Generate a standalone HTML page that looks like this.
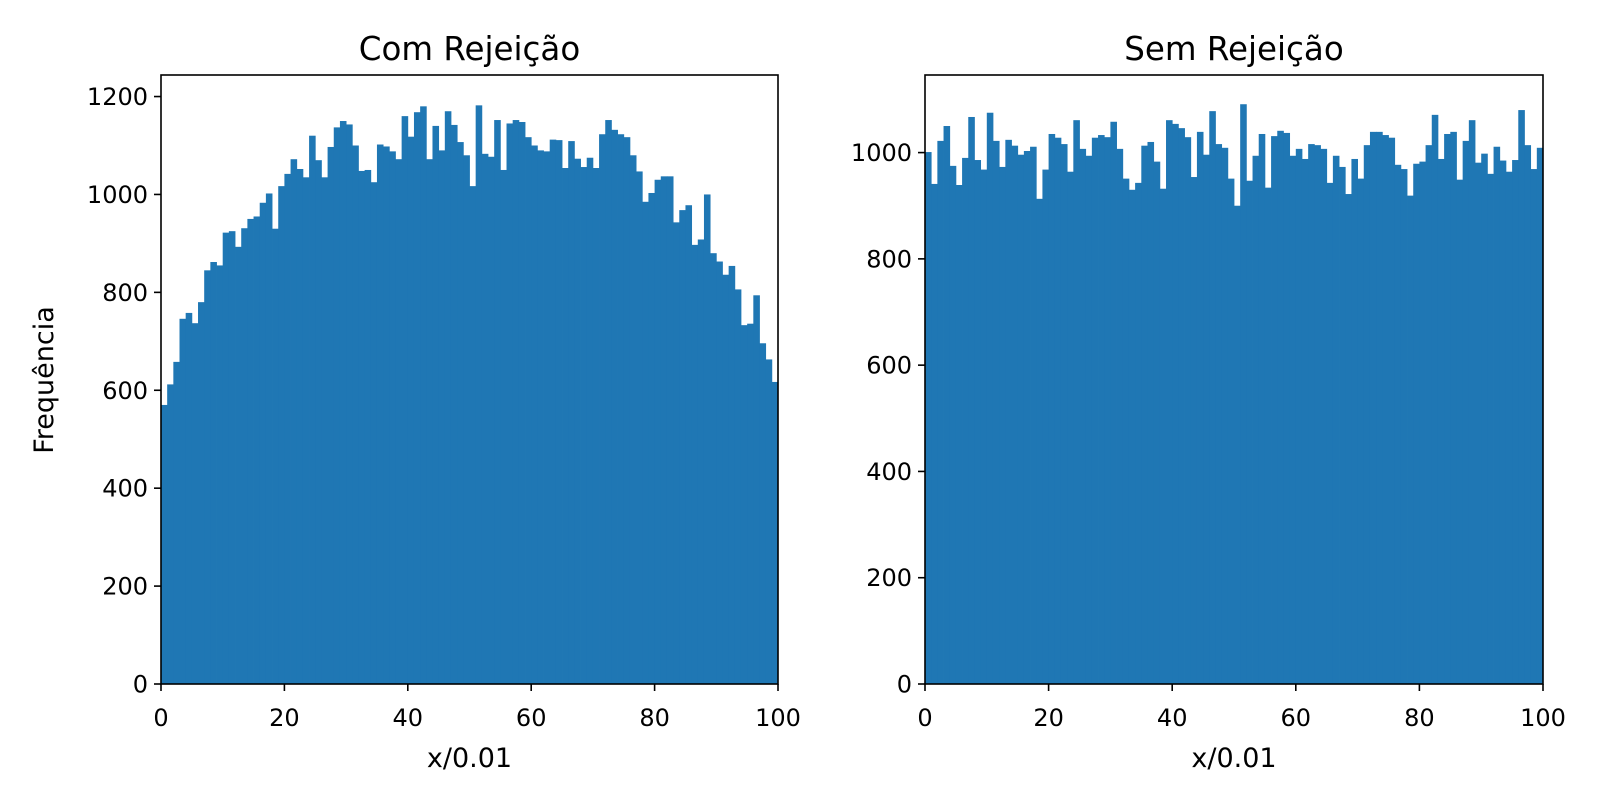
<!DOCTYPE html>
<html><head><meta charset="utf-8"><style>body{margin:0;background:#fff}svg{display:block}text{font-family:"DejaVu Sans","Liberation Sans",sans-serif;fill:#000}</style></head>
<body>
<svg id="chart" width="1600" height="800" viewBox="0 0 1600 800" xmlns="http://www.w3.org/2000/svg"></svg>
<script>
const leftValues=[570,612,658,746,758,737,780,845,862,855,922,925,893,931,950,955,983,1002,930,1017,1042,1072,1052,1035,1120,1070,1035,1097,1137,1150,1143,1100,1048,1050,1025,1102,1098,1088,1072,1160,1118,1168,1180,1072,1140,1090,1170,1142,1107,1080,1017,1182,1083,1077,1152,1050,1145,1152,1148,1117,1100,1090,1088,1112,1111,1054,1109,1073,1056,1075,1054,1123,1152,1132,1123,1117,1080,1047,985,1003,1030,1037,1037,943,968,978,897,908,1000,880,863,836,854,806,733,736,794,696,663,617];
const rightValues=[1001,941,1022,1050,975,939,990,1067,986,968,1075,1022,973,1024,1013,996,1003,1011,913,968,1035,1028,1016,964,1061,1007,994,1028,1033,1029,1058,1007,951,930,943,1013,1020,983,932,1061,1054,1046,1029,954,1039,996,1078,1016,1009,951,900,1091,947,994,1035,934,1031,1041,1037,994,1007,988,1016,1014,1007,943,994,973,922,988,951,1014,1039,1039,1033,1028,977,969,919,979,983,1014,1071,988,1035,1039,949,1022,1061,981,998,960,1011,985,964,986,1080,1014,969,1009];
const xTicks=[0,20,40,60,80,100];
const leftYTicks=[0,200,400,600,800,1000,1200];
const rightYTicks=[0,200,400,600,800,1000];
const svg=document.getElementById('chart');
const NS='http://www.w3.org/2000/svg';
function mk(tag,attrs,parent){const e=document.createElementNS(NS,tag);for(const k in attrs)e.setAttribute(k,attrs[k]);(parent||svg).appendChild(e);return e;}
function panel(x0,x1,yTop,yBot,ymax,values,yTicks,title,key){
  const g=mk('g',{});
  
  
  const sx=v=>x0+(v/100)*(x1-x0);
  const sy=v=>yBot-(v/ymax)*(yBot-yTop);
  const n=values.length;
  values.forEach((v,i)=>{
    const xa=sx(i*100/n),xb=sx((i+1)*100/n);
    const r=mk('rect',{x:xa,y:sy(v),width:xb-xa+0.4,height:yBot-sy(v),fill:'#1f77b4'},g);
    
    
  });
  const f=mk('rect',{x:x0,y:yTop,width:x1-x0,height:yBot-yTop,fill:'none',stroke:'#000','stroke-width':1.6},g);
  
  
  xTicks.forEach(t=>{
    mk('line',{x1:sx(t),x2:sx(t),y1:yBot,y2:yBot+7,stroke:'#000','stroke-width':1.6},g);
    const tx=mk('text',{x:sx(t),y:yBot+42,'font-size':24,'text-anchor':'middle'},g);
    tx.textContent=t;
    
    
  });
  yTicks.forEach(t=>{
    mk('line',{x1:x0,x2:x0-7,y1:sy(t),y2:sy(t),stroke:'#000','stroke-width':1.6},g);
    const ty=mk('text',{x:x0-13,y:sy(t)+8.5,'font-size':24,'text-anchor':'end'},g);
    ty.textContent=t;
    
    
  });
  const tt=mk('text',{x:(x0+x1)/2,y:yTop-15,'font-size':32.5,'text-anchor':'middle'},g);
  tt.textContent=title;
  
  
  const xl=mk('text',{x:(x0+x1)/2,y:yBot+83,'font-size':27,'text-anchor':'middle'},g);
  xl.textContent='x/0.01';
  
  
}
panel(161,778,75,684,1244,leftValues,leftYTicks,'Com Rejeição','left');
panel(925,1543,75,684,1146,rightValues,rightYTicks,'Sem Rejeição','right');
const yl=mk('text',{x:0,y:0,'font-size':27,'text-anchor':'middle',transform:'translate(53,380) rotate(-90)'});
yl.textContent='Frequência';


</script>
</body></html>
